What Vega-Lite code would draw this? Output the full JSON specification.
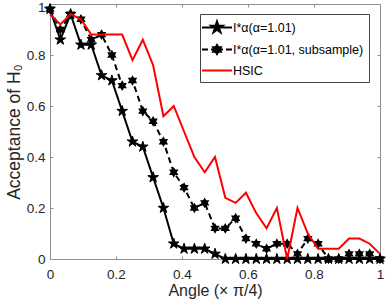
{
  "$schema": "https://vega.github.io/schema/vega-lite/v6.json",
  "width": 330,
  "height": 255,
  "autosize": {"type": "none"},
  "padding": {"left": 50, "top": 4, "right": 8, "bottom": 42},
  "background": "white",
  "data": {"values": [
    {"angle": 0, "series": "I*α(α=1.01)", "acceptance": 0.98},
    {"angle": 0.03125, "series": "I*α(α=1.01)", "acceptance": 0.86},
    {"angle": 0.0625, "series": "I*α(α=1.01)", "acceptance": 0.96},
    {"angle": 0.09375, "series": "I*α(α=1.01)", "acceptance": 0.84},
    {"angle": 0.125, "series": "I*α(α=1.01)", "acceptance": 0.84},
    {"angle": 0.15625, "series": "I*α(α=1.01)", "acceptance": 0.72},
    {"angle": 0.1875, "series": "I*α(α=1.01)", "acceptance": 0.70},
    {"angle": 0.21875, "series": "I*α(α=1.01)", "acceptance": 0.58},
    {"angle": 0.25, "series": "I*α(α=1.01)", "acceptance": 0.46},
    {"angle": 0.28125, "series": "I*α(α=1.01)", "acceptance": 0.44},
    {"angle": 0.3125, "series": "I*α(α=1.01)", "acceptance": 0.32},
    {"angle": 0.34375, "series": "I*α(α=1.01)", "acceptance": 0.20},
    {"angle": 0.375, "series": "I*α(α=1.01)", "acceptance": 0.06},
    {"angle": 0.40625, "series": "I*α(α=1.01)", "acceptance": 0.04},
    {"angle": 0.4375, "series": "I*α(α=1.01)", "acceptance": 0.04},
    {"angle": 0.46875, "series": "I*α(α=1.01)", "acceptance": 0.04},
    {"angle": 0.5, "series": "I*α(α=1.01)", "acceptance": 0.02},
    {"angle": 0.53125, "series": "I*α(α=1.01)", "acceptance": 0},
    {"angle": 0.5625, "series": "I*α(α=1.01)", "acceptance": 0},
    {"angle": 0.59375, "series": "I*α(α=1.01)", "acceptance": 0},
    {"angle": 0.625, "series": "I*α(α=1.01)", "acceptance": 0},
    {"angle": 0.65625, "series": "I*α(α=1.01)", "acceptance": 0},
    {"angle": 0.6875, "series": "I*α(α=1.01)", "acceptance": 0},
    {"angle": 0.71875, "series": "I*α(α=1.01)", "acceptance": 0},
    {"angle": 0.75, "series": "I*α(α=1.01)", "acceptance": 0},
    {"angle": 0.78125, "series": "I*α(α=1.01)", "acceptance": 0},
    {"angle": 0.8125, "series": "I*α(α=1.01)", "acceptance": 0},
    {"angle": 0.84375, "series": "I*α(α=1.01)", "acceptance": 0},
    {"angle": 0.875, "series": "I*α(α=1.01)", "acceptance": 0},
    {"angle": 0.90625, "series": "I*α(α=1.01)", "acceptance": 0},
    {"angle": 0.9375, "series": "I*α(α=1.01)", "acceptance": 0},
    {"angle": 0.96875, "series": "I*α(α=1.01)", "acceptance": 0},
    {"angle": 1, "series": "I*α(α=1.01)", "acceptance": 0},

    {"angle": 0, "series": "I*α(α=1.01, subsample)", "acceptance": 0.98},
    {"angle": 0.03125, "series": "I*α(α=1.01, subsample)", "acceptance": 0.90},
    {"angle": 0.0625, "series": "I*α(α=1.01, subsample)", "acceptance": 0.96},
    {"angle": 0.09375, "series": "I*α(α=1.01, subsample)", "acceptance": 0.94},
    {"angle": 0.125, "series": "I*α(α=1.01, subsample)", "acceptance": 0.86},
    {"angle": 0.15625, "series": "I*α(α=1.01, subsample)", "acceptance": 0.88},
    {"angle": 0.1875, "series": "I*α(α=1.01, subsample)", "acceptance": 0.80},
    {"angle": 0.21875, "series": "I*α(α=1.01, subsample)", "acceptance": 0.68},
    {"angle": 0.25, "series": "I*α(α=1.01, subsample)", "acceptance": 0.70},
    {"angle": 0.28125, "series": "I*α(α=1.01, subsample)", "acceptance": 0.58},
    {"angle": 0.3125, "series": "I*α(α=1.01, subsample)", "acceptance": 0.54},
    {"angle": 0.34375, "series": "I*α(α=1.01, subsample)", "acceptance": 0.46},
    {"angle": 0.375, "series": "I*α(α=1.01, subsample)", "acceptance": 0.34},
    {"angle": 0.40625, "series": "I*α(α=1.01, subsample)", "acceptance": 0.28},
    {"angle": 0.4375, "series": "I*α(α=1.01, subsample)", "acceptance": 0.20},
    {"angle": 0.46875, "series": "I*α(α=1.01, subsample)", "acceptance": 0.22},
    {"angle": 0.5, "series": "I*α(α=1.01, subsample)", "acceptance": 0.12},
    {"angle": 0.53125, "series": "I*α(α=1.01, subsample)", "acceptance": 0.12},
    {"angle": 0.5625, "series": "I*α(α=1.01, subsample)", "acceptance": 0.16},
    {"angle": 0.59375, "series": "I*α(α=1.01, subsample)", "acceptance": 0.08},
    {"angle": 0.625, "series": "I*α(α=1.01, subsample)", "acceptance": 0.06},
    {"angle": 0.65625, "series": "I*α(α=1.01, subsample)", "acceptance": 0.04},
    {"angle": 0.6875, "series": "I*α(α=1.01, subsample)", "acceptance": 0.06},
    {"angle": 0.71875, "series": "I*α(α=1.01, subsample)", "acceptance": 0.06},
    {"angle": 0.75, "series": "I*α(α=1.01, subsample)", "acceptance": 0.02},
    {"angle": 0.78125, "series": "I*α(α=1.01, subsample)", "acceptance": 0.08},
    {"angle": 0.8125, "series": "I*α(α=1.01, subsample)", "acceptance": 0.06},
    {"angle": 0.84375, "series": "I*α(α=1.01, subsample)", "acceptance": 0},
    {"angle": 0.875, "series": "I*α(α=1.01, subsample)", "acceptance": 0},
    {"angle": 0.90625, "series": "I*α(α=1.01, subsample)", "acceptance": 0.02},
    {"angle": 0.9375, "series": "I*α(α=1.01, subsample)", "acceptance": 0.02},
    {"angle": 0.96875, "series": "I*α(α=1.01, subsample)", "acceptance": 0.02},
    {"angle": 1, "series": "I*α(α=1.01, subsample)", "acceptance": 0},

    {"angle": 0, "series": "HSIC", "acceptance": 0.96},
    {"angle": 0.03125, "series": "HSIC", "acceptance": 0.92},
    {"angle": 0.0625, "series": "HSIC", "acceptance": 0.96},
    {"angle": 0.09375, "series": "HSIC", "acceptance": 0.94},
    {"angle": 0.125, "series": "HSIC", "acceptance": 0.88},
    {"angle": 0.15625, "series": "HSIC", "acceptance": 0.88},
    {"angle": 0.1875, "series": "HSIC", "acceptance": 0.88},
    {"angle": 0.21875, "series": "HSIC", "acceptance": 0.88},
    {"angle": 0.25, "series": "HSIC", "acceptance": 0.78},
    {"angle": 0.28125, "series": "HSIC", "acceptance": 0.86},
    {"angle": 0.3125, "series": "HSIC", "acceptance": 0.76},
    {"angle": 0.34375, "series": "HSIC", "acceptance": 0.56},
    {"angle": 0.375, "series": "HSIC", "acceptance": 0.60},
    {"angle": 0.40625, "series": "HSIC", "acceptance": 0.50},
    {"angle": 0.4375, "series": "HSIC", "acceptance": 0.40},
    {"angle": 0.46875, "series": "HSIC", "acceptance": 0.34},
    {"angle": 0.5, "series": "HSIC", "acceptance": 0.40},
    {"angle": 0.53125, "series": "HSIC", "acceptance": 0.24},
    {"angle": 0.5625, "series": "HSIC", "acceptance": 0.22},
    {"angle": 0.59375, "series": "HSIC", "acceptance": 0.26},
    {"angle": 0.625, "series": "HSIC", "acceptance": 0.18},
    {"angle": 0.65625, "series": "HSIC", "acceptance": 0.12},
    {"angle": 0.6875, "series": "HSIC", "acceptance": 0.20},
    {"angle": 0.71875, "series": "HSIC", "acceptance": 0},
    {"angle": 0.75, "series": "HSIC", "acceptance": 0.20},
    {"angle": 0.78125, "series": "HSIC", "acceptance": 0.10},
    {"angle": 0.8125, "series": "HSIC", "acceptance": 0.04},
    {"angle": 0.84375, "series": "HSIC", "acceptance": 0.04},
    {"angle": 0.875, "series": "HSIC", "acceptance": 0.04},
    {"angle": 0.90625, "series": "HSIC", "acceptance": 0.08},
    {"angle": 0.9375, "series": "HSIC", "acceptance": 0.08},
    {"angle": 0.96875, "series": "HSIC", "acceptance": 0.06},
    {"angle": 1, "series": "HSIC", "acceptance": 0.02}
  ]},
  "resolve": {"axis": {"x": "independent", "y": "independent"}},
  "layer": [
    {
      "transform": [{"filter": {"field": "series", "equal": "I*α(α=1.01)"}}],
      "mark": {"type": "line", "color": "#000000", "strokeWidth": 2},
      "encoding": {
        "x": {"field": "angle", "type": "quantitative",
              "scale": {"domain": [0, 1], "nice": false, "zero": false},
              "axis": {"orient": "bottom", "values": [0, 0.2, 0.4, 0.6, 0.8, 1], "format": "~g",
                       "title": "Angle (× π/4)", "labelPadding": 11, "labelFlush": false, "titlePadding": 2,
                       "titleFontSize": 16}},
        "y": {"field": "acceptance", "type": "quantitative",
              "scale": {"domain": [0, 1], "nice": false, "zero": false},
              "axis": {"orient": "left", "values": [0, 0.2, 0.4, 0.6, 0.8, 1], "format": "~g",
                       "title": "Acceptance of H₀", "labelPadding": 8, "labelFlush": false, "titlePadding": 3,
                       "titleFontSize": 17.5,
                       "labelOffset": {"condition": {"test": "datum.value === 1", "value": 3}, "value": 0}}}
      }
    },
    {
      "transform": [{"filter": {"field": "series", "equal": "I*α(α=1.01)"}}],
      "mark": {"type": "point", "filled": true, "opacity": 1, "fill": "#000000", "stroke": "#000000", "strokeWidth": 1, "size": 125,
               "shape": "M0,-1L0.225,-0.309L0.951,-0.309L0.363,0.118L0.588,0.809L0,0.382L-0.588,0.809L-0.363,0.118L-0.951,-0.309L-0.225,-0.309Z"},
      "encoding": {
        "x": {"field": "angle", "type": "quantitative", "axis": null},
        "y": {"field": "acceptance", "type": "quantitative", "axis": null}
      }
    },
    {
      "transform": [{"filter": {"field": "series", "equal": "I*α(α=1.01, subsample)"}}],
      "mark": {"type": "line", "color": "#000000", "strokeWidth": 2, "strokeDash": [6, 4]},
      "encoding": {
        "x": {"field": "angle", "type": "quantitative",
              "axis": {"orient": "top", "values": [0, 0.2, 0.4, 0.6, 0.8, 1], "labels": false, "title": null}},
        "y": {"field": "acceptance", "type": "quantitative",
              "axis": {"orient": "right", "values": [0, 0.2, 0.4, 0.6, 0.8, 1], "labels": false, "title": null}}
      }
    },
    {
      "transform": [{"filter": {"field": "series", "equal": "I*α(α=1.01, subsample)"}}],
      "mark": {"type": "point", "filled": true, "opacity": 1, "fill": "#000000", "stroke": "#000000", "strokeWidth": 1.5, "size": 60,
               "shape": "M0,-1L0.289,-0.5L0.866,-0.5L0.577,0L0.866,0.5L0.289,0.5L0,1L-0.289,0.5L-0.866,0.5L-0.577,0L-0.866,-0.5L-0.289,-0.5Z"},
      "encoding": {
        "x": {"field": "angle", "type": "quantitative", "axis": null},
        "y": {"field": "acceptance", "type": "quantitative", "axis": null}
      }
    },
    {
      "transform": [{"filter": {"field": "series", "equal": "HSIC"}}],
      "mark": {"type": "line", "color": "#ff0000", "strokeWidth": 2},
      "encoding": {
        "x": {"field": "angle", "type": "quantitative", "axis": null},
        "y": {"field": "acceptance", "type": "quantitative", "axis": null}
      }
    },
    {
      "data": {"values": [
        {"series": "I*α(α=1.01)"},
        {"series": "I*α(α=1.01, subsample)"},
        {"series": "HSIC"}
      ]},
      "mark": {"type": "point", "filled": true, "opacity": 1, "strokeWidth": 2},
      "encoding": {
        "x": {"field": "angle", "type": "quantitative", "axis": null},
        "y": {"field": "acceptance", "type": "quantitative", "axis": null},
        "shape": {"field": "series", "type": "nominal",
                  "scale": {"domain": ["I*α(α=1.01)", "I*α(α=1.01, subsample)", "HSIC"],
                            "range": [
                              "M-2,0H2M0,-0.8L0.18,-0.248L0.76,-0.248L0.29,0.094L0.47,0.648L0,0.306L-0.47,0.648L-0.29,0.094L-0.76,-0.248L-0.18,-0.248Z",
                              "M-2,0H-1.2M-0.8,0H-0.2M0.2,0H0.8M1.2,0H2M0,-0.6L0.174,-0.3L0.52,-0.3L0.346,0L0.52,0.3L0.174,0.3L0,0.6L-0.174,0.3L-0.52,0.3L-0.346,0L-0.52,-0.3L-0.174,-0.3Z",
                              "M-2,0H2"]},
                  "legend": {"title": null}},
        "fill": {"field": "series", "type": "nominal",
                 "scale": {"domain": ["I*α(α=1.01)", "I*α(α=1.01, subsample)", "HSIC"], "range": ["#000000", "#000000", "#ff0000"]},
                 "legend": {"title": null}},
        "stroke": {"field": "series", "type": "nominal",
                   "scale": {"domain": ["I*α(α=1.01)", "I*α(α=1.01, subsample)", "HSIC"], "range": ["#000000", "#000000", "#ff0000"]},
                   "legend": {"title": null}}
      }
    }
  ],
  "config": {
    "view": {"stroke": null},
    "font": "Liberation Sans",
    "axis": {
      "grid": false,
      "domainColor": "#8f8f8f",
      "domainWidth": 1,
      "tickColor": "#8f8f8f",
      "tickWidth": 1,
      "tickSize": -3,
      "labelColor": "#262626",
      "labelFont": "Liberation Sans",
      "labelFontSize": 13.5,
      "titleColor": "#262626",
      "titleFont": "Liberation Sans",
      "titleFontSize": 16,
      "titleFontWeight": "normal"
    },
    "legend": {
      "orient": "none",
      "legendX": 150,
      "legendY": 10,
      "strokeColor": "#444444",
      "fillColor": "#ffffff",
      "padding": 5,
      "symbolSize": 225,
      "symbolOffset": 3.5,
      "symbolStrokeWidth": 2,
      "symbolOpacity": 1,
      "labelFont": "Liberation Sans",
      "labelFontSize": 12.5,
      "labelColor": "#000000",
      "labelLimit": 300,
      "rowPadding": 4,
      "labelOffset": 7.5
    }
  }
}
